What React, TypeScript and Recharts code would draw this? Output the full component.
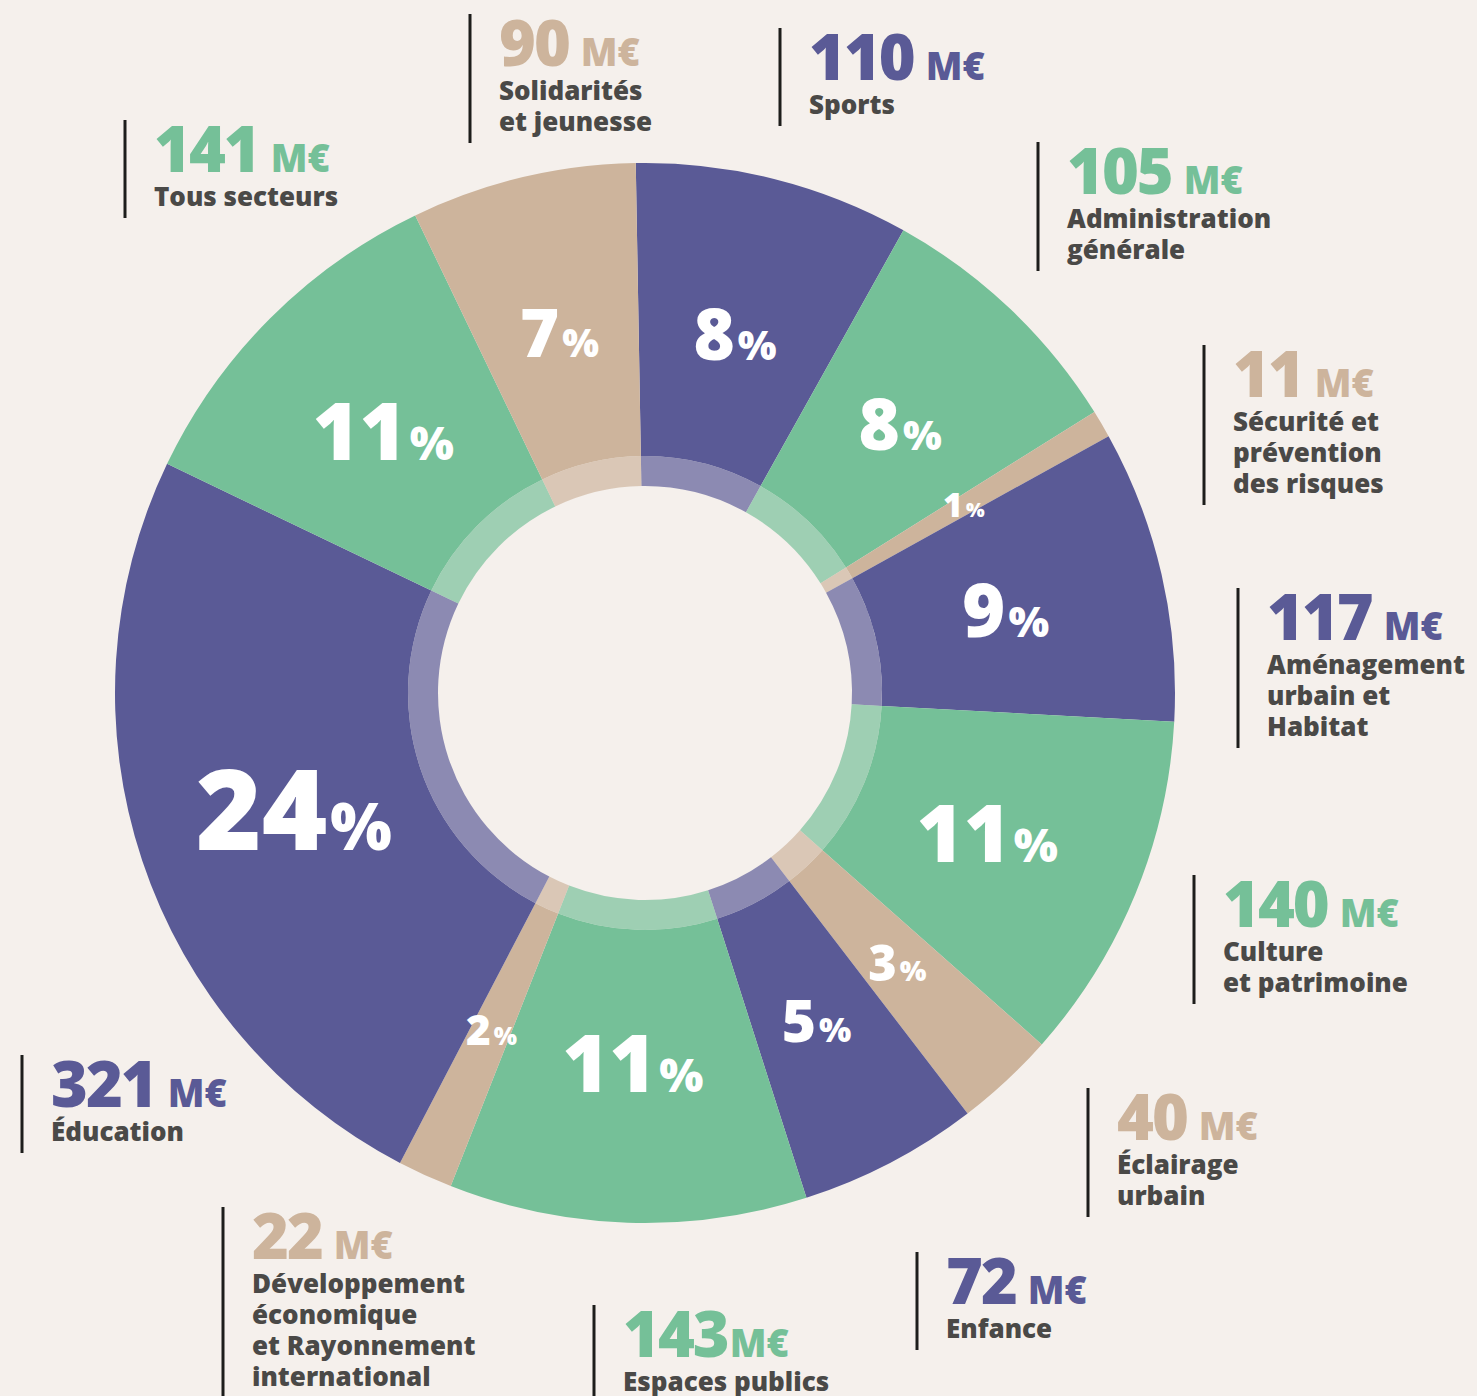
import { Cell, Pie, PieChart } from 'recharts'

const BG = '#F5F0EC'
const INK = '#4A4947'
const RULE = '#1D1D1B'
const FONT = '"Open Sans", Lato, sans-serif'

const PALETTE: Record<string, string> = {
  purple: '#5A5A96',
  green: '#75C098',
  tan: '#CDB49C',
}

// budget par secteur, en M€, dans le sens horaire depuis midi
const SECTORS = [
  'Sports',
  'Administration générale',
  'Sécurité et prévention des risques',
  'Aménagement urbain et Habitat',
  'Culture et patrimoine',
  'Éclairage urbain',
  'Enfance',
  'Espaces publics',
  'Développement économique et Rayonnement international',
  'Éducation',
  'Tous secteurs',
  'Solidarités et jeunesse',
]
const AMOUNTS = [110, 105, 11, 117, 140, 40, 72, 143, 22, 321, 141, 90]
const TONES = [
  'purple',
  'green',
  'tan',
  'purple',
  'green',
  'tan',
  'purple',
  'green',
  'tan',
  'purple',
  'green',
  'tan',
]
const LABEL_LINES = [
  ['Sports'],
  ['Administration', 'générale'],
  ['Sécurité et', 'prévention', 'des risques'],
  ['Aménagement', 'urbain et', 'Habitat'],
  ['Culture', 'et patrimoine'],
  ['Éclairage', 'urbain'],
  ['Enfance'],
  ['Espaces publics'],
  ['Développement', 'économique', 'et Rayonnement', 'international'],
  ['Éducation'],
  ['Tous secteurs'],
  ['Solidarités', 'et jeunesse'],
]

// où chaque légende est posée (trait vertical : x, haut)
const CALLOUT_ANCHORS: [number, number][] = [
  [780, 28],
  [1038, 142],
  [1204, 345],
  [1238, 588],
  [1194, 875],
  [1088, 1088],
  [917, 1252],
  [594, 1305],
  [223, 1207],
  [22, 1055],
  [125, 120],
  [470, 14],
]

const data = SECTORS.map((name, i) => ({
  name,
  value: AMOUNTS[i],
  fill: PALETTE[TONES[i]],
}))

const RAD = Math.PI / 180

function PercentLabel(props: any) {
  const { cx, cy, midAngle, percent } = props
  const r = 370
  const x = cx + r * Math.cos(-midAngle * RAD)
  const y = cy + r * Math.sin(-midAngle * RAD)
  const p = Math.round(percent * 100)
  const size = 14 + 20 * Math.sqrt(p)
  return (
    <text
      x={x}
      y={y + size * 0.36}
      textAnchor="middle"
      fill="#fff"
      fontFamily={FONT}
      fontWeight={800}
    >
      <tspan fontSize={size}>{p}</tspan>
      <tspan fontSize={size * 0.58} dx={3}>
        %
      </tspan>
    </text>
  )
}

function Callout(props: any) {
  const { index } = props
  const [lx, top] = CALLOUT_ANCHORS[index]
  const lines = LABEL_LINES[index]
  const tx = lx + 29
  const numBase = top + 52
  const firstName = numBase + 34
  const lastName = firstName + (lines.length - 1) * 31
  const color = PALETTE[TONES[index]]
  return (
    <g>
      <line
        x1={lx}
        x2={lx}
        y1={top}
        y2={lastName + 12}
        stroke={RULE}
        strokeWidth={3}
      />
      <text x={tx} y={numBase} fill={color} fontFamily={FONT} fontWeight={800}>
        <tspan fontSize={63} letterSpacing={-2}>
          {AMOUNTS[index]}
        </tspan>
        <tspan fontSize={38} dx={index === 7 ? 2 : 12}>
          M€
        </tspan>
      </text>
      {lines.map((line, k) => (
        <text
          key={line}
          x={tx}
          y={firstName + k * 31}
          fill={INK}
          fontFamily={FONT}
          fontWeight={800}
          fontSize={26}
        >
          {line}
        </text>
      ))}
    </g>
  )
}

export default function App() {
  return (
    <div
      style={{
        position: 'absolute',
        left: 0,
        top: 0,
        width: 1477,
        height: 1396,
        background: BG,
      }}
    >
      <PieChart
        width={1477}
        height={1396}
        margin={{ top: 0, right: 0, bottom: 0, left: 0 }}
      >
        <Pie
          data={data}
          dataKey="value"
          nameKey="name"
          cx={645}
          cy={693}
          innerRadius={237}
          outerRadius={530}
          startAngle={91}
          endAngle={-269}
          stroke="none"
          label={PercentLabel}
          labelLine={false}
          isAnimationActive={false}
        >
          {data.map((d) => (
            <Cell key={d.name} fill={d.fill} />
          ))}
        </Pie>
        <Pie
          data={data}
          dataKey="value"
          nameKey="name"
          cx={645}
          cy={693}
          innerRadius={207}
          outerRadius={237}
          startAngle={91}
          endAngle={-269}
          stroke="none"
          label={Callout}
          labelLine={false}
          isAnimationActive={false}
        >
          {data.map((d) => (
            <Cell key={d.name} fill={d.fill} fillOpacity={0.68} />
          ))}
        </Pie>
      </PieChart>
    </div>
  )
}
